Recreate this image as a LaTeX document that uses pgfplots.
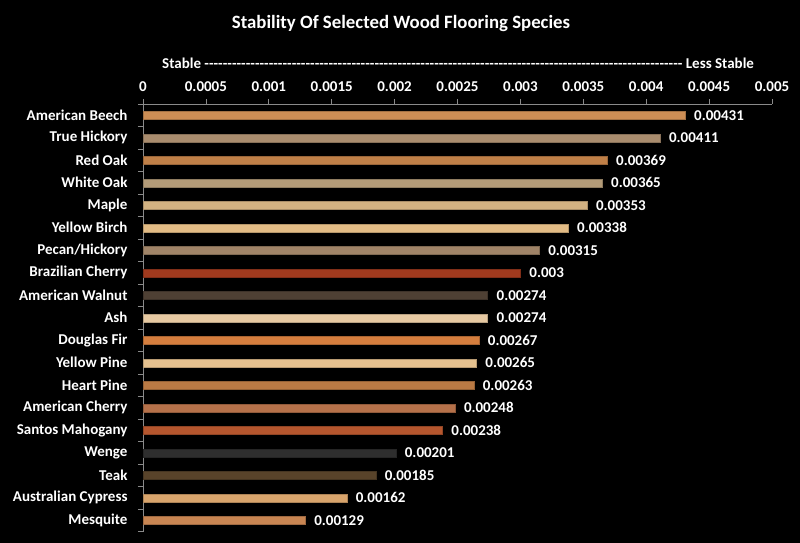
\documentclass[border=0pt]{standalone}
\usepackage{pgfplots}
\pgfplotsset{compat=1.18}
\usepackage{fontspec}
\setmainfont{Carlito}
\definecolor{cBeech}{HTML}{CD8E55}
\definecolor{cHickory}{HTML}{A98C6E}
\definecolor{cRedOak}{HTML}{C08048}
\definecolor{cWhiteOak}{HTML}{B39B78}
\definecolor{cMaple}{HTML}{D3B282}
\definecolor{cBirch}{HTML}{E2BB85}
\definecolor{cPecan}{HTML}{A08468}
\definecolor{cBrCherry}{HTML}{A03A1E}
\definecolor{cWalnut}{HTML}{4E4034}
\definecolor{cAsh}{HTML}{E6C9A2}
\definecolor{cFir}{HTML}{D57E3E}
\definecolor{cYPine}{HTML}{E5C18F}
\definecolor{cHPine}{HTML}{BA7A44}
\definecolor{cAmCherry}{HTML}{B5714A}
\definecolor{cSantos}{HTML}{B5562E}
\definecolor{cWenge}{HTML}{2E2E2E}
\definecolor{cTeak}{HTML}{58432A}
\definecolor{cCypress}{HTML}{D8A46C}
\definecolor{cMesquite}{HTML}{C88552}
\definecolor{axgray}{HTML}{8A8A8A}
\newcommand{\lblfont}{\bfseries\fontsize{15}{18}\selectfont}
\pgfplotsset{
  wood/.style={xbar, bar width=8pt, bar shift=0pt, fill=#1, draw=#1!80!black,
    nodes near coords, point meta=explicit symbolic,
    every node near coord/.style={anchor=west, text=white, xshift=5.5pt,
      font=\lblfont}},
}
\begin{document}
\begin{tikzpicture}[x=1pt,y=1pt]
\fill[black] (0,0) rectangle (800,-543);
\node[text=white, font=\bfseries\fontsize{18.8}{22}\selectfont] at (401,-23) {Stability Of Selected Wood Flooring Species};
\node[text=white, font=\lblfont, anchor=west, inner sep=0pt] at (162,-63)
  {\hbox to 592pt{Stable \xleaders\hbox{-}\hfill{} Less Stable}};
\begin{axis}[
  at={(143pt,-104pt)}, anchor=north west,
  scale only axis, width=629pt, height=427.5pt,
  xmin=0, xmax=0.005, ymin=-0.5, ymax=18.5,
  axis x line*=top, axis y line*=left,
  axis line style={draw=axgray, line width=0.8pt, -},
  tick align=outside,
  major tick length=5pt, minor tick length=5pt,
  tick style={draw=axgray, line width=0.8pt},
  xtick={0,0.0005,0.001,0.0015,0.002,0.0025,0.003,0.0035,0.004,0.0045,0.005},
  xticklabels={0,0.0005,0.001,0.0015,0.002,0.0025,0.003,0.0035,0.004,0.0045,0.005},
  scaled x ticks=false,
  ytick={0,1,...,18},
  yticklabels={Mesquite,Australian Cypress,Teak,Wenge,Santos Mahogany,American Cherry,Heart Pine,Yellow Pine,Douglas Fir,Ash,American Walnut,Brazilian Cherry,Pecan/Hickory,Yellow Birch,Maple,White Oak,Red Oak,True Hickory,American Beech},
  minor ytick={-0.5,0.5,...,18.5},
  every major y tick/.append style={draw=none},
  ticklabel style={text=white, font=\lblfont},
  yticklabel style={xshift=-7pt},
  xticklabel style={yshift=3.5pt},
  clip=false,
]
\addplot[wood=cBeech]    coordinates {(0.00431,18) [0.00431]};
\addplot[wood=cHickory]  coordinates {(0.00411,17) [0.00411]};
\addplot[wood=cRedOak]   coordinates {(0.00369,16) [0.00369]};
\addplot[wood=cWhiteOak] coordinates {(0.00365,15) [0.00365]};
\addplot[wood=cMaple]    coordinates {(0.00353,14) [0.00353]};
\addplot[wood=cBirch]    coordinates {(0.00338,13) [0.00338]};
\addplot[wood=cPecan]    coordinates {(0.00315,12) [0.00315]};
\addplot[wood=cBrCherry] coordinates {(0.003,11) [0.003]};
\addplot[wood=cWalnut]   coordinates {(0.00274,10) [0.00274]};
\addplot[wood=cAsh]      coordinates {(0.00274,9) [0.00274]};
\addplot[wood=cFir]      coordinates {(0.00267,8) [0.00267]};
\addplot[wood=cYPine]    coordinates {(0.00265,7) [0.00265]};
\addplot[wood=cHPine]    coordinates {(0.00263,6) [0.00263]};
\addplot[wood=cAmCherry] coordinates {(0.00248,5) [0.00248]};
\addplot[wood=cSantos]   coordinates {(0.00238,4) [0.00238]};
\addplot[wood=cWenge]    coordinates {(0.00201,3) [0.00201]};
\addplot[wood=cTeak]     coordinates {(0.00185,2) [0.00185]};
\addplot[wood=cCypress]  coordinates {(0.00162,1) [0.00162]};
\addplot[wood=cMesquite] coordinates {(0.00129,0) [0.00129]};
\end{axis}
\pgfresetboundingbox
\path (0,0) rectangle (800,-543);
\end{tikzpicture}
\end{document}
